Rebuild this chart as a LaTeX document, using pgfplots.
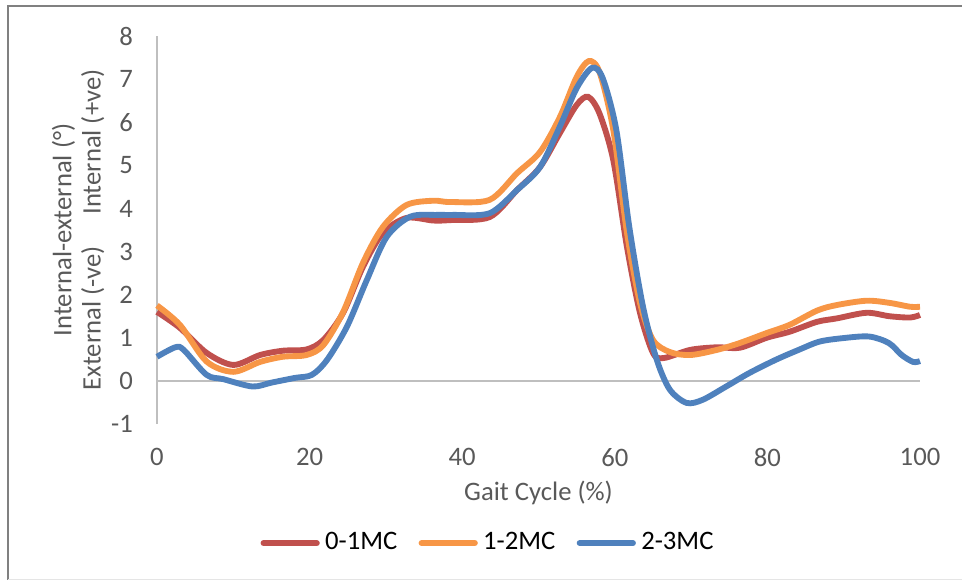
\documentclass[border=0pt]{standalone}
\usepackage{fontspec}
\setmainfont{Carlito}
\usepackage{pgfplots}
\pgfplotsset{compat=1.18}
\usepackage{pgfplotstable}
\definecolor{cred}{HTML}{C0504D}
\definecolor{corange}{HTML}{F79646}
\definecolor{cblue}{HTML}{4F81BD}
\definecolor{txtgray}{HTML}{595959}
\definecolor{axgray}{HTML}{BFBFBF}

\pgfplotstableread{
x y
0 1.60
3.0 1.23
6.5 0.65
10 0.37
13.5 0.60
16.5 0.70
19.6 0.73
21.8 0.95
24.4 1.58
27 2.65
29.6 3.43
32.7 3.78
36.2 3.72
38.4 3.73
43.6 3.80
47.2 4.43
50.2 4.96
52.8 5.75
55 6.40
56.5 6.59
58 6.20
59.8 5.12
61.6 3.10
63.3 1.58
65 0.65
66.4 0.53
69.9 0.72
73.4 0.78
76.4 0.77
79.9 1.00
82.9 1.14
86.5 1.37
89.1 1.45
93 1.58
96 1.50
98.7 1.47
100 1.53
}\redtab

\pgfplotstableread{
x y
0 1.75
3.0 1.30
6.5 0.45
10 0.21
13.5 0.44
16.5 0.56
19.6 0.60
21.8 0.83
24.4 1.60
27 2.74
29.6 3.57
32.7 4.08
36.2 4.18
38.4 4.15
43.6 4.20
47.2 4.82
50.2 5.31
52.8 6.12
55 7.05
56.6 7.42
58 7.16
59.8 5.82
61.6 3.43
63.3 1.81
65 0.95
67.2 0.67
69.9 0.60
73.4 0.72
76.4 0.88
79.9 1.11
82.9 1.30
86.5 1.63
89.1 1.76
93 1.86
96 1.81
98.7 1.72
100 1.72
}\orangetab

\pgfplotstableread{
x y
0 0.56
2.4 0.78
3.5 0.72
6.5 0.14
8.7 0.04
12.5 -0.13
15 -0.04
18.1 0.07
20.3 0.14
22.3 0.49
24.9 1.26
27.5 2.34
30.1 3.34
33.2 3.81
36.7 3.85
38.8 3.85
43.6 3.89
47.2 4.43
50.2 4.96
52.8 5.90
55 6.79
57 7.26
58.4 7.03
60.2 5.82
61.9 3.57
63.7 1.72
65.5 0.49
67.2 -0.20
69.4 -0.51
71.5 -0.44
74.6 -0.13
77.6 0.18
81.1 0.49
84.1 0.72
86.8 0.91
89.8 0.99
93.3 1.03
95.9 0.88
97.6 0.60
99.1 0.44
100 0.46
}\bluetab

\begin{document}
\begin{tikzpicture}
\path[use as bounding box] (0,0) rectangle (360.75pt,217.875pt);
\draw[line width=0.75pt, color=black!50] (3pt,0.4pt) -- (3pt,215.6pt) -- (360.75pt,215.6pt);
\draw[line width=0.4pt, color=black!10] (3pt,0.4pt) -- (360.75pt,0.4pt);
\begin{axis}[
  at={(58.875pt,58.875pt)}, anchor=south west,
  scale only axis,
  width=286.125pt, height=145.5pt,
  xmin=0, xmax=100, ymin=-1, ymax=8,
  xtick={0,20,40,60,80,100},
  ytick={-1,0,1,2,3,4,5,6,7,8},
  axis x line*=bottom,
  axis y line*=left,
  x axis line style={draw=none},
  y axis line style={draw=axgray, line width=0.75pt, -},
  major tick length=0pt,
  tick style={draw=none},
  ticklabel style={color=txtgray, font=\normalsize},
  /pgf/number format/assume math mode=true,
  yticklabel shift=5.5pt,
  xticklabel shift=5.5pt,
  xlabel={Gait Cycle (\%)},
  xlabel style={color=txtgray, at={(rel axis cs:0.5,-0.178)}, anchor=center},
  ylabel={\begin{tabular}{c}Internal-external (°)\\[-1pt]External (-ve)\hspace{12pt}Internal (+ve)\end{tabular}},
  ylabel style={color=txtgray, at={(rel axis cs:0,0.5)}, anchor=south, yshift=14pt},
  clip=false,
  legend style={
    at={(rel axis cs:0.436,-0.307)}, anchor=center,
    draw=none, fill=none,
    legend columns=3,
    font=\normalsize,
    /tikz/every even column/.append style={column sep=6pt},
    legend cell align=left,
  },
  legend image code/.code={\draw[#1, line cap=round] (0pt,0pt) -- (20pt,0pt);},
]
\draw[axgray, line width=0.75pt] (axis cs:0,0) -- (axis cs:100,0);
\addplot[cred, line width=2.2pt, smooth, tension=0.5] table[x=x,y=y] {\redtab};
\addlegendentry{0-1MC}
\addplot[corange, line width=2.2pt, smooth, tension=0.5] table[x=x,y=y] {\orangetab};
\addlegendentry{1-2MC}
\addplot[cblue, line width=2.2pt, smooth, tension=0.5] table[x=x,y=y] {\bluetab};
\addlegendentry{2-3MC}
\end{axis}
\end{tikzpicture}
\end{document}
